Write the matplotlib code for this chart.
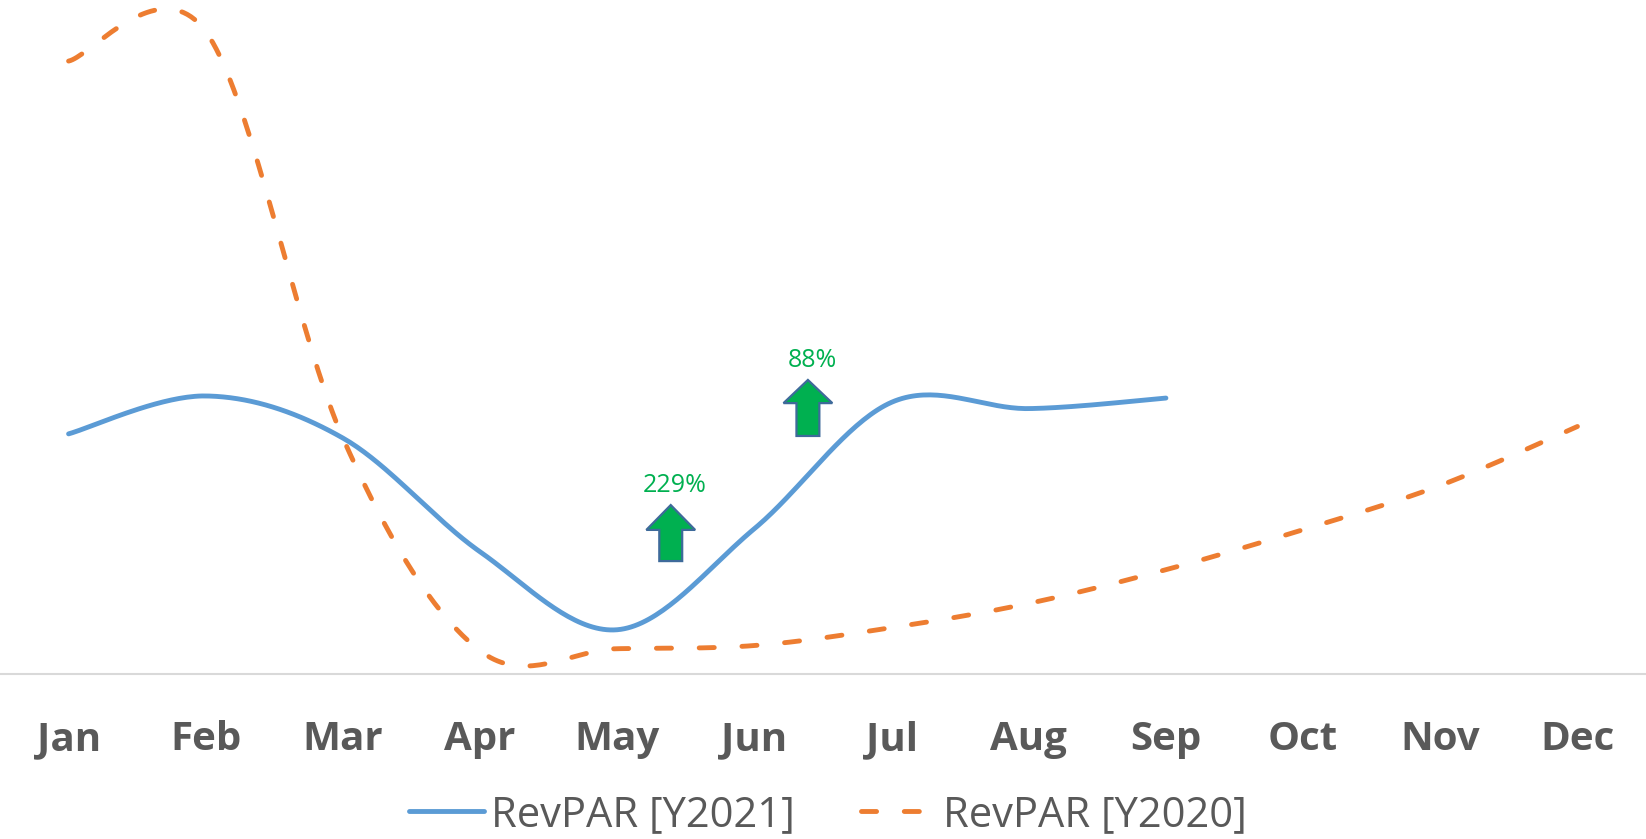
import numpy as np
from matplotlib import pyplot as plt
from matplotlib.patches import FancyArrow
from matplotlib.lines import Line2D

#==============================================================================
# Datos (RevPAR por mes)
#==============================================================================
months = ['Jan', 'Feb', 'Mar', 'Apr', 'May', 'Jun', 'Jul', 'Aug', 'Sep', 'Oct', 'Nov', 'Dec']
revpar_2021 = [57, 66, 56, 29, 10.5, 34.5, 64.5, 63, 65.5]
revpar_2020 = [145.5, 152.5, 56, 5.5, 6, 6.75, 11, 16.75, 24.75, 34.25, 44.75, 58.75]
growth_labels = ['229%', '88%']
growth_x = [4.39, 5.39]

blue = '#5B9BD5'
orange = '#ED7D31'
green = '#00B050'
gris = '#595959'
guiones = (3.1, 5.7)

plt.rcParams['font.family'] = ['Open Sans', 'DejaVu Sans']


def suavizar(y, n=40):
    # curva suavizada tipo Excel (bezier por tramos)
    y = np.asarray(y, dtype=float)
    x = np.arange(len(y), dtype=float)
    P = np.column_stack([x, y])
    xs, ys = [], []
    for i in range(len(P) - 1):
        p0 = P[i - 1] if i > 0 else P[i]
        p1 = P[i]
        p2 = P[i + 1]
        p3 = P[i + 2] if i + 2 < len(P) else P[i + 1]
        c1 = p1 + (p2 - p0) / 6
        c2 = p2 - (p3 - p1) / 6
        t = np.linspace(0, 1, n)[:, None]
        b = (1 - t)**3 * p1 + 3 * (1 - t)**2 * t * c1 + 3 * (1 - t) * t**2 * c2 + t**3 * p2
        xs.extend(b[:, 0])
        ys.extend(b[:, 1])
    return np.array(xs), np.array(ys)


fig = plt.figure(figsize=(16.46, 8.39), dpi=100)
ax = fig.add_axes([0, 0.1967, 1, 0.8033])

x1, y1 = suavizar(revpar_2021)
x2, y2 = suavizar(revpar_2020)
ax.plot(x1, y1, color=blue, lw=3.5, solid_capstyle='round', clip_on=False, zorder=3)
ax.plot(x2, y2, color=orange, lw=3.5, dashes=guiones, dash_capstyle='round', clip_on=False, zorder=2)

# flechas de crecimiento
flechas = [(growth_x[0], 26.8, 13.3, 5.9), (growth_x[1], 56.5, 13.3, 5.5)]
for (xa, ya, largo, cabeza), lab in zip(flechas, growth_labels):
    ax.add_patch(FancyArrow(xa, ya, 0, largo, width=0.167, head_width=0.356, head_length=cabeza,
                            length_includes_head=True, facecolor=green, edgecolor='#3E6A9A',
                            lw=1.6, zorder=4))
    ax.text(xa + 0.03, ya + largo + 4.7, lab, color=green, fontsize=18, ha='center', va='center')

ax.set_xlim(-0.5, 11.5)
ax.set_ylim(0, 160)
ax.set_xticks(range(len(months)))
ax.set_xticklabels(months, fontsize=29, fontweight='bold', color=gris)
ax.tick_params(axis='x', length=0, pad=33.5)
ax.set_yticks([])
for s in ['top', 'left', 'right']:
    ax.spines[s].set_visible(False)
ax.spines['bottom'].set_color('#D9D9D9')
ax.spines['bottom'].set_linewidth(1.5)

handles = [Line2D([], [], color=blue, lw=3.5, solid_capstyle='round'),
           Line2D([], [], color=orange, lw=3.5, dashes=guiones, dash_capstyle='round')]
fig.legend(handles, ['RevPAR [Y2021]', 'RevPAR [Y2020]'], loc='center', bbox_to_anchor=(0.503, 0.029),
           ncol=2, frameon=False, fontsize=30, labelcolor=gris, handlelength=1.8,
           handletextpad=0.15, columnspacing=1.6, borderaxespad=0)

plt.savefig('out.png', dpi=100)
plt.close()
